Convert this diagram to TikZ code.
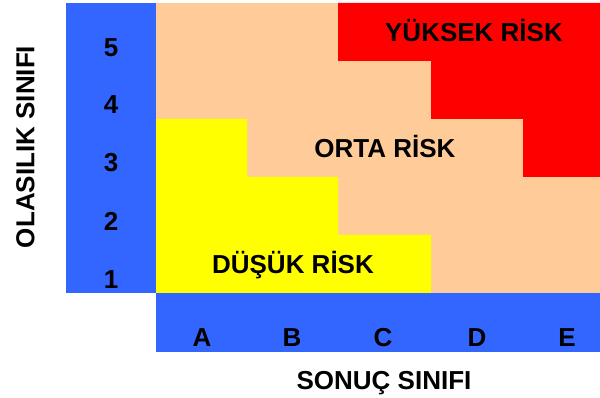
\documentclass[tikz,border=0pt]{standalone}
\usepackage{fontspec}
\setmainfont{Liberation Sans}
\definecolor{axblue}{HTML}{3366FF}
\definecolor{peach}{HTML}{FFCC99}
\definecolor{riskred}{HTML}{FF0000}
\definecolor{riskyellow}{HTML}{FFFF00}
\begin{document}
\begin{tikzpicture}[x=1pt,y=-1pt,
  lbl/.style={font=\fontsize{26}{30}\selectfont\bfseries, inner sep=0pt, text height=18.6pt, text depth=0pt, anchor=center}]
\useasboundingbox (0,0) rectangle (600,398);
\fill[white] (0,0) rectangle (600,398);
% axis bands
\fill[axblue] (66,3) rectangle (156,293);
\fill[axblue] (156,293) rectangle (600,352);
% grid background
\fill[peach] (156,3) rectangle (600,293);
% red region (high risk)
\fill[riskred] (338,3) -- (600,3) -- (600,177) -- (523,177) -- (523,119) -- (431,119) -- (431,61) -- (338,61) -- cycle;
% yellow region (low risk)
\fill[riskyellow] (156,119) -- (247,119) -- (247,177) -- (338,177) -- (338,235) -- (431,235) -- (431,293) -- (156,293) -- cycle;
% row labels
\node[lbl] (r5) at (111,47) {5};
\node[lbl] (r4) at (111,104) {4};
\node[lbl] (r3) at (111,162) {3};
\node[lbl] (r2) at (111,221) {2};
\node[lbl] (r1) at (111,279) {1};
% column labels
\node[lbl] (cA) at (202,337) {A};
\node[lbl] (cB) at (292,337) {B};
\node[lbl] (cC) at (383,337) {C};
\node[lbl] (cD) at (477,337) {D};
\node[lbl] (cE) at (567,337) {E};
% zone labels
\node[lbl] (high) at (474,32) {YÜKSEK RİSK};
\node[lbl] (mid) at (385,148) {ORTA RİSK};
\node[lbl] (low) at (293,264) {DÜŞÜK RİSK};
% axis titles
\node[lbl] (xt) at (384,380) {SONUÇ SINIFI};
\node[lbl, rotate=90] (yt) at (25,147) {OLASILIK SINIFI};
\end{tikzpicture}
\end{document}
